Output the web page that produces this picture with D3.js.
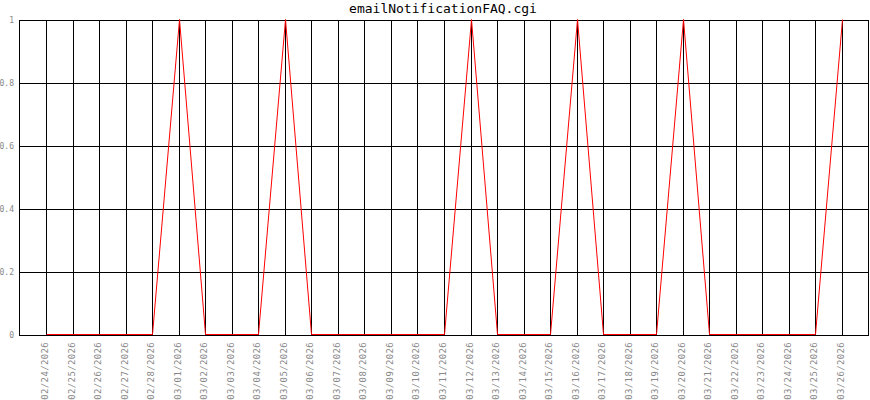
<!DOCTYPE html>
<html>
<head>
<meta charset="utf-8">
<script src="https://cdn.jsdelivr.net/npm/d3@7"></script>
<style>
  html, body { margin: 0; padding: 0; background: #fff; }
  svg { display: block; }
</style>
</head>
<body>
<svg id="chart" width="870" height="400"></svg>
<script>
const title = "emailNotificationFAQ.cgi";
const dates = ["02/24/2026","02/25/2026","02/26/2026","02/27/2026","02/28/2026","03/01/2026","03/02/2026","03/03/2026","03/04/2026","03/05/2026","03/06/2026","03/07/2026","03/08/2026","03/09/2026","03/10/2026","03/11/2026","03/12/2026","03/13/2026","03/14/2026","03/15/2026","03/16/2026","03/17/2026","03/18/2026","03/19/2026","03/20/2026","03/21/2026","03/22/2026","03/23/2026","03/24/2026","03/25/2026","03/26/2026"];
const values = [0,0,0,0,0,1,0,0,0,1,0,0,0,0,0,0,1,0,0,0,1,0,0,0,1,0,0,0,0,0,1];
const yTicks = [0, 0.2, 0.4, 0.6, 0.8, 1];

const svg = d3.select("#chart");
const mono = "'DejaVu Sans Mono', 'Liberation Mono', monospace";

const x = d3.scalePoint().domain(dates).range([19.5, 868.5]).padding(1);
const y = d3.scaleLinear().domain([0, 1]).range([335.5, 20.5]);

// Title
svg.append("text")
  .attr("x", 443).attr("y", 13)
  .attr("text-anchor", "middle")
  .attr("font-family", mono).attr("font-size", 13)
  .attr("fill", "#000")
  .text(title);

// horizontal grid
svg.append("g").selectAll("line").data(yTicks).join("line")
  .attr("x1", 19.5).attr("x2", 868.5)
  .attr("y1", d => y(d)).attr("y2", d => y(d))
  .attr("stroke", "#000").attr("stroke-width", 1)
  .attr("shape-rendering", "crispEdges");

// vertical grid
svg.append("g").selectAll("line").data(dates).join("line")
  .attr("x1", d => Math.round(x(d)) + 0.5).attr("x2", d => Math.round(x(d)) + 0.5)
  .attr("y1", 20.5).attr("y2", 335.5)
  .attr("stroke", "#000").attr("stroke-width", 1)
  .attr("shape-rendering", "crispEdges");

// frame
svg.append("rect")
  .attr("x", 19.5).attr("y", 20.5)
  .attr("width", 849).attr("height", 315)
  .attr("fill", "none").attr("stroke", "#000").attr("stroke-width", 1)
  .attr("shape-rendering", "crispEdges");

// y labels
svg.append("g").selectAll("text").data(yTicks).join("text")
  .attr("x", 14).attr("y", d => y(d))
  .attr("text-anchor", "end").attr("dominant-baseline", "central")
  .attr("font-family", mono).attr("font-size", 8)
  .attr("fill", "#888")
  .text(d => d3.format("~g")(d));

// x labels
svg.append("g").selectAll("text").data(dates).join("text")
  .attr("transform", d => `translate(${Math.round(x(d)) + 2},342) rotate(-90)`)
  .attr("text-anchor", "end")
  .attr("font-family", mono).attr("font-size", 9)
  .attr("letter-spacing", 0.35)
  .attr("fill", "#888")
  .text(d => d);

// series line
const line = d3.line()
  .x((d, i) => Math.round(x(dates[i])) + 0.5)
  .y(d => y(d) - 1);
svg.append("path")
  .datum(values)
  .attr("d", line)
  .attr("fill", "none")
  .attr("stroke", "#ff0000")
  .attr("stroke-width", 1);
</script>
</body>
</html>
